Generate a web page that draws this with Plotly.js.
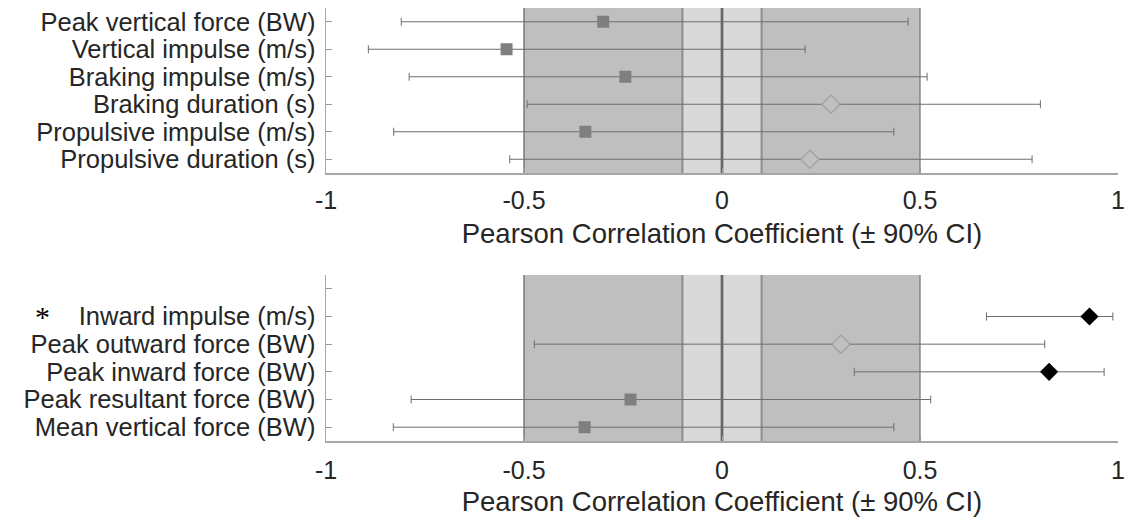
<!DOCTYPE html>
<html>
<head>
<meta charset="utf-8">
<script src="https://cdn.plot.ly/plotly-3.0.1.min.js"></script>
<style>html,body{margin:0;padding:0;background:#fff;}#chart{width:1125px;height:517px;}</style>
</head>
<body>
<div id="chart"></div>
<script>
// ---- Data ----
const topLabels = ['Peak vertical force (BW)', 'Vertical impulse (m/s)', 'Braking impulse (m/s)',
  'Braking duration (s)', 'Propulsive impulse (m/s)', 'Propulsive duration (s)'];
const topR     = [-0.30, -0.544, -0.244, 0.275, -0.345, 0.222];
const topLower = [-0.81, -0.893, -0.79, -0.492, -0.829, -0.536];
const topUpper = [0.47, 0.21, 0.518, 0.804, 0.434, 0.783];
const topType  = ['neg', 'neg', 'neg', 'pos', 'neg', 'pos'];

const bottomLabels = ['Inward impulse (m/s)', 'Peak outward force (BW)', 'Peak inward force (BW)',
  'Peak resultant force (BW)', 'Mean vertical force (BW)'];
const bottomR     = [0.928, 0.30, 0.826, -0.231, -0.347];
const bottomLower = [0.668, -0.474, 0.334, -0.785, -0.83];
const bottomUpper = [0.987, 0.815, 0.965, 0.527, 0.434];
const bottomType  = ['sig', 'pos', 'sig', 'neg', 'neg'];

const xTickVals = [-1, -0.5, 0, 0.5, 1];
const xTickText = ['-1', '-0.5', '0', '0.5', '1'];
const xTitle = 'Pearson Correlation Coefficient (± 90% CI)';
const sigMark = '*';

// ---- Styling ----
const FONT = 'Liberation Sans, Arial, sans-serif';
const TXT = '#262626';
const markerStyles = {
  neg: {symbol: 'square', size: 12, color: '#7f7f7f', line: {width: 0}},
  pos: {symbol: 'diamond', size: 14, color: '#c0c0c0', line: {width: 1.3, color: '#a0a0a0'}},
  sig: {symbol: 'diamond', size: 14, color: '#000000', line: {width: 0}}
};

function buildTraces(r, lo, hi, types, yPos, xa, ya) {
  const traces = [];
  traces.push({
    type: 'scatter', mode: 'markers', x: r, y: yPos, xaxis: xa, yaxis: ya,
    marker: {size: 1, color: 'rgba(0,0,0,0)'},
    error_x: {type: 'data', symmetric: false,
      array: r.map((v, i) => hi[i] - v), arrayminus: r.map((v, i) => v - lo[i]),
      color: '#6e6e6e', thickness: 1, width: 4},
    hoverinfo: 'skip', showlegend: false
  });
  Object.keys(markerStyles).forEach(k => {
    const idx = types.map((t, i) => t === k ? i : -1).filter(i => i >= 0);
    if (!idx.length) return;
    traces.push({
      type: 'scatter', mode: 'markers', xaxis: xa, yaxis: ya,
      x: idx.map(i => r[i]), y: idx.map(i => yPos[i]),
      marker: markerStyles[k], showlegend: false
    });
  });
  return traces;
}

const topY = topLabels.map((_, i) => i + 1);
const botY = bottomLabels.map((_, i) => i + 1);

const data = [].concat(
  buildTraces(topR, topLower, topUpper, topType, topY, 'x', 'y'),
  buildTraces(bottomR, bottomLower, bottomUpper, bottomType, botY, 'x2', 'y2')
);

function vline(xref, yref, x, color, width) {
  return {type: 'line', xref: xref, yref: yref + ' domain', x0: x, x1: x, y0: 0, y1: 1,
    line: {color: color, width: width}, layer: 'below'};
}
function shadeShapes(xref, yref) {
  return [
    {type: 'rect', xref: xref, yref: yref + ' domain', x0: -0.5, x1: 0.5, y0: 0, y1: 1,
      fillcolor: '#bfbfbf', line: {width: 0}, layer: 'below'},
    {type: 'rect', xref: xref, yref: yref + ' domain', x0: -0.1, x1: 0.1, y0: 0, y1: 1,
      fillcolor: '#d9d9d9', line: {width: 0}, layer: 'below'},
    vline(xref, yref, -0.5, '#6a6a6a', 1.3),
    vline(xref, yref, 0.5, '#7a7a7a', 1.3),
    vline(xref, yref, -0.1, '#8c8c8c', 2),
    vline(xref, yref, 0.1, '#8c8c8c', 2),
    vline(xref, yref, 0, '#666666', 2.7)
  ];
}

const H = 517;
function dom(topPx, botPx) { return [1 - botPx / H, 1 - topPx / H]; }

const xCommon = {
  range: [-1, 1], tickvals: xTickVals, ticktext: xTickText,
  ticks: 'inside', ticklen: 5, tickcolor: '#999999',
  showline: true, linecolor: '#a6a6a6', linewidth: 1.5, mirror: false,
  showgrid: false, zeroline: false, fixedrange: true,
  tickfont: {family: FONT, size: 25, color: TXT},
  ticklabeloverflow: 'allow'
};
const yCommon = {
  ticks: 'inside', ticklen: 6, tickcolor: '#999999',
  showline: true, linecolor: '#a6a6a6', linewidth: 1.5,
  showgrid: false, zeroline: false, fixedrange: true,
  tickfont: {family: FONT, size: 25.5, color: TXT},
  ticklabelstandoff: 4
};
const titleFont = {family: FONT, size: 27.5, color: TXT};

const layout = {
  width: 1125, height: 517,
  margin: {l: 326, r: 7, t: 0, b: 0},
  paper_bgcolor: '#ffffff', plot_bgcolor: '#ffffff',
  showlegend: false,
  xaxis: Object.assign({}, xCommon, {anchor: 'y', domain: [0, 1], ticklabelstandoff: 4,
    title: {text: xTitle, font: titleFont, standoff: 11}}),
  xaxis2: Object.assign({}, xCommon, {anchor: 'y2', domain: [0, 1], ticklabelstandoff: 6,
    title: {text: xTitle, font: titleFont, standoff: 13}}),
  yaxis: Object.assign({}, yCommon, {anchor: 'x', domain: dom(8, 173),
    range: [topLabels.length + 0.5, 0.5], tickvals: topY, ticktext: topLabels}),
  yaxis2: Object.assign({}, yCommon, {anchor: 'x2', domain: dom(275, 441),
    range: [bottomLabels.length + 0.5, -0.5], tickvals: [0].concat(botY), ticktext: [''].concat(bottomLabels)}),
  shapes: shadeShapes('x', 'y').concat(shadeShapes('x2', 'y2')),
  annotations: [{
    text: sigMark, xref: 'paper', yref: 'y2', x: (42 - 326) / 794, y: 1,
    xanchor: 'center', yanchor: 'middle', showarrow: false, yshift: 0,
    font: {family: 'Liberation Serif, serif', size: 30, color: '#000000'}
  }]
};

Plotly.newPlot('chart', data, layout, {displayModeBar: false, staticPlot: true});
</script>
</body>
</html>
